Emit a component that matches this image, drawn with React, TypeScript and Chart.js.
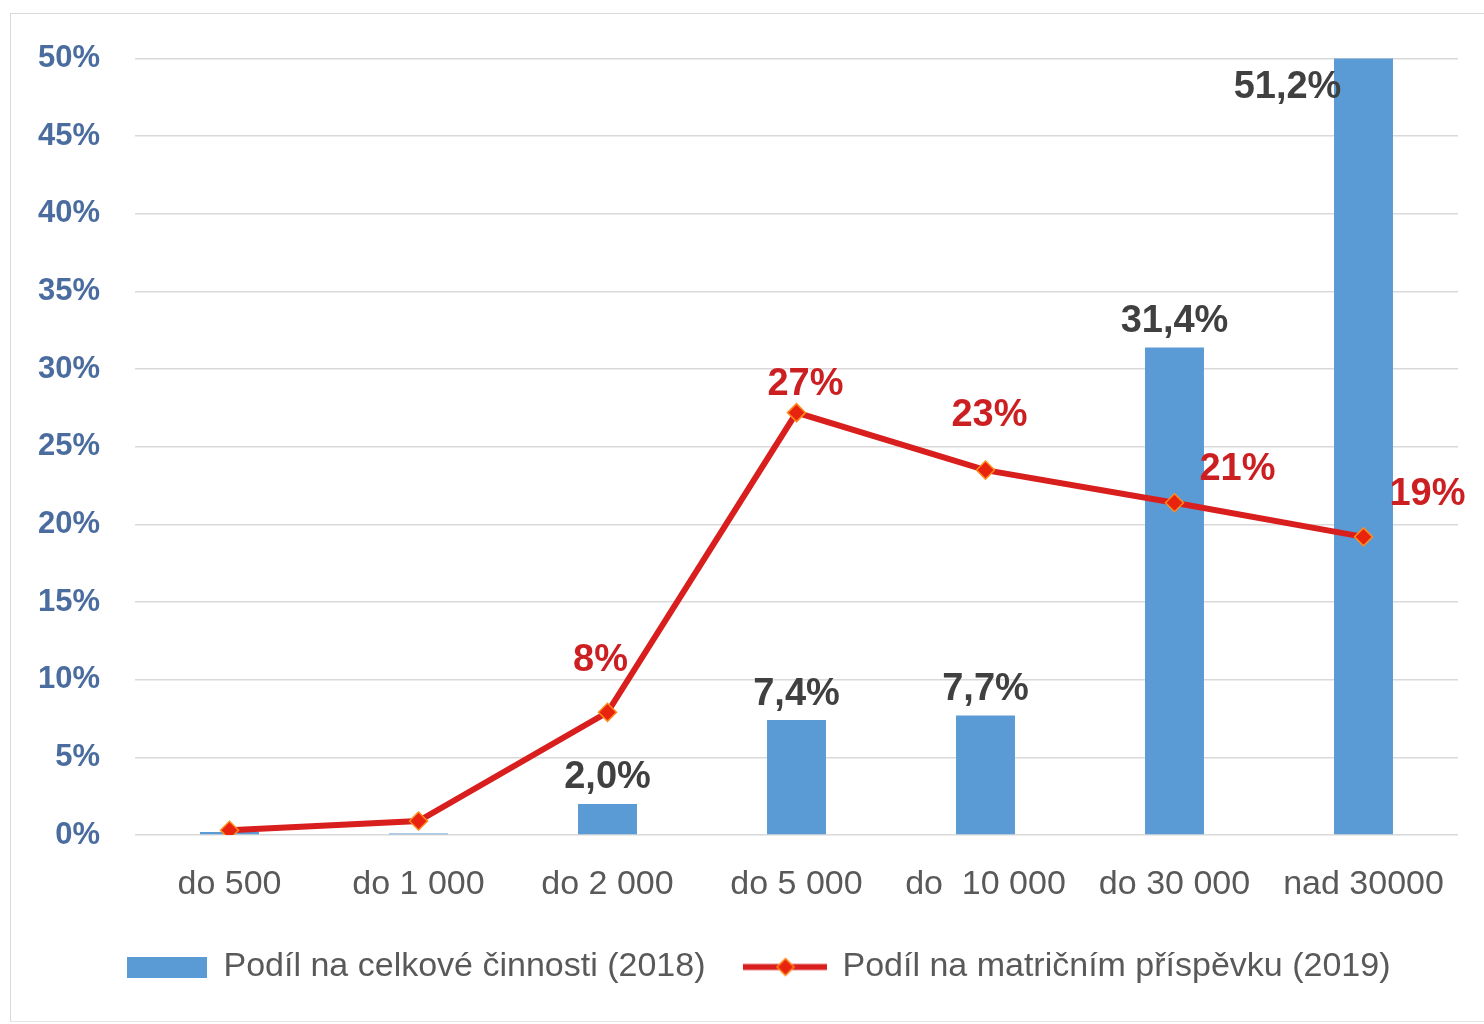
import React, { useEffect, useRef } from "react";
import { Chart, registerables } from "chart.js";

Chart.register(...registerables);

// ---- data ----
const categories = ["do 500", "do 1 000", "do 2 000", "do 5 000", "do  10 000", "do 30 000", "nad 30000"];
const barValues = [0.2, 0.1, 2.0, 7.4, 7.7, 31.4, 51.2];
const lineValues = [0.3, 0.9, 7.9, 27.2, 23.5, 21.4, 19.2];
const barLabels = ["", "", "2,0%", "7,4%", "7,7%", "31,4%", "51,2%"];
const lineLabels = ["", "", "8%", "27%", "23%", "21%", "19%"];
const barSeriesName = "Podíl na celkové činnosti (2018)";
const lineSeriesName = "Podíl na matričním příspěvku (2019)";
const yMin = 0;
const yMax = 50;
const yStep = 5;

// ---- styles ----
const BAR_COLOR = "#5B9BD5";
const LINE_COLOR = "#D91E1E";
const POINT_FILL = "#E8240F";
const POINT_BORDER = "#FF8A1A";
const RED_LABEL = "#CC1F22";
const DARK_LABEL = "#404040";
const FONT = "'Liberation Sans', Arial, sans-serif";
// label placement relative to the point (px)
const LINE_LABEL_OFFSETS: ([number, number] | null)[] = [null, null, [-7, -52], [9, -28], [4, -55], [63, -33], [64, -42]];
const LEGEND_SHIFT = 11;

function makeBarSwatch() {
  const c = document.createElement("canvas");
  c.width = 80;
  c.height = 21;
  const ctx = c.getContext("2d")!;
  ctx.fillStyle = BAR_COLOR;
  ctx.fillRect(0, 0, 80, 21);
  return c;
}

function makeLineSwatch() {
  const c = document.createElement("canvas");
  c.width = 84;
  c.height = 21;
  const ctx = c.getContext("2d")!;
  ctx.strokeStyle = LINE_COLOR;
  ctx.lineWidth = 6;
  ctx.beginPath();
  ctx.moveTo(0, 10.5);
  ctx.lineTo(84, 10.5);
  ctx.stroke();
  ctx.fillStyle = POINT_FILL;
  ctx.strokeStyle = POINT_BORDER;
  ctx.lineWidth = 1.5;
  ctx.beginPath();
  ctx.moveTo(42, 2);
  ctx.lineTo(50.5, 10.5);
  ctx.lineTo(42, 19);
  ctx.lineTo(33.5, 10.5);
  ctx.closePath();
  ctx.fill();
  ctx.stroke();
  return c;
}

const legendShiftPlugin = {
  id: "legendShiftPlugin",
  afterLayout(chart: any) {
    const lg = chart.legend;
    if (lg) {
      lg.left += LEGEND_SHIFT;
      lg.right += LEGEND_SHIFT;
    }
  },
};

const dataLabelPlugin = {
  id: "dataLabelPlugin",
  afterDatasetsDraw(chart: any) {
    const ctx = chart.ctx;
    const area = chart.chartArea;
    ctx.save();
    ctx.textAlign = "center";
    ctx.textBaseline = "middle";
    ctx.font = `bold 38px ${FONT}`;
    const barMeta = chart.getDatasetMeta(0);
    barMeta.data.forEach((el: any, i: number) => {
      const t = barLabels[i];
      if (!t) return;
      ctx.fillStyle = DARK_LABEL;
      if (el.y < area.top) {
        ctx.fillText(t, el.x - 76, area.top + 29);
      } else {
        ctx.fillText(t, el.x, el.y - 26);
      }
    });
    const lineMeta = chart.getDatasetMeta(1);
    lineMeta.data.forEach((el: any, i: number) => {
      const t = lineLabels[i];
      const off = LINE_LABEL_OFFSETS[i];
      if (!t || !off) return;
      ctx.fillStyle = RED_LABEL;
      ctx.fillText(t, el.x + off[0], el.y + off[1]);
    });
    ctx.restore();
  },
};

export default function App() {
  const ref = useRef<HTMLCanvasElement | null>(null);

  useEffect(() => {
    if (!ref.current) return;
    const swatches = [makeBarSwatch(), makeLineSwatch()];
    const chart = new Chart(ref.current, {
      type: "bar",
      data: {
        labels: categories,
        datasets: [
          {
            type: "bar",
            label: barSeriesName,
            data: barValues,
            backgroundColor: BAR_COLOR,
            barPercentage: 0.312,
            categoryPercentage: 1,
            order: 2,
          },
          {
            type: "line",
            label: lineSeriesName,
            data: lineValues,
            borderColor: LINE_COLOR,
            borderWidth: 6,
            pointStyle: "rectRot",
            pointRadius: 9,
            pointBackgroundColor: POINT_FILL,
            pointBorderColor: POINT_BORDER,
            pointBorderWidth: 1.5,
            tension: 0,
            order: 1,
          } as any,
        ],
      },
      options: {
        animation: false,
        responsive: false,
        devicePixelRatio: 1,
        layout: { padding: { left: 0, right: 0, top: 20, bottom: 27 } },
        plugins: {
          tooltip: { enabled: false },
          legend: {
            position: "bottom",
            labels: {
              usePointStyle: true,
              pointStyleWidth: 80,
              boxHeight: 21,
              padding: 40,
              color: "#595959",
              font: { family: FONT, size: 34 },
              sort: (a: any, b: any) => a.datasetIndex - b.datasetIndex,
              generateLabels: (c: any) => {
                const items = (Chart.defaults.plugins.legend.labels as any).generateLabels(c);
                items.forEach((it: any) => {
                  it.pointStyle = swatches[it.datasetIndex];
                });
                return items;
              },
            },
          },
        },
        scales: {
          x: {
            grid: { display: false },
            border: { display: false },
            ticks: {
              color: "#595959",
              font: { family: FONT, size: 34 },
              padding: 21,
              maxRotation: 0,
              autoSkip: false,
            },
            afterFit: (s: any) => {
              s.height = 75;
            },
          },
          y: {
            min: yMin,
            max: yMax,
            position: "left",
            grid: { color: "#D9D9D9", lineWidth: 1.5, drawTicks: false },
            border: { display: false },
            ticks: {
              stepSize: yStep,
              color: "#4A6C9E",
              padding: 35,
              font: { family: FONT, size: 31, weight: "bold" },
              callback: (v: any) => `${v}%`,
            },
            afterFit: (s: any) => {
              s.width = 124;
            },
          },
          yR: {
            position: "right",
            display: true,
            grid: { display: false, drawTicks: false },
            border: { display: false },
            ticks: { display: false },
            afterFit: (s: any) => {
              s.width = 26;
            },
          },
        },
      } as any,
      plugins: [dataLabelPlugin, legendShiftPlugin],
    });
    return () => chart.destroy();
  }, []);

  return (
    <div style={{ position: "absolute", left: 0, top: 0, width: 1484, height: 1024, overflow: "hidden" }}>
      <div
        style={{
          position: "absolute",
          left: 10,
          top: 13,
          width: 1473,
          height: 1007,
          borderTop: "1.5px solid #D9D9D9",
          borderLeft: "1.5px solid #D9D9D9",
          borderBottom: "1.5px solid #E6E6E6",
          background: "#fff",
        }}
      />
      <canvas
        ref={ref}
        width={1473}
        height={1016}
        style={{ display: "block", position: "absolute", left: 11, top: 5 }}
      />
    </div>
  );
}
